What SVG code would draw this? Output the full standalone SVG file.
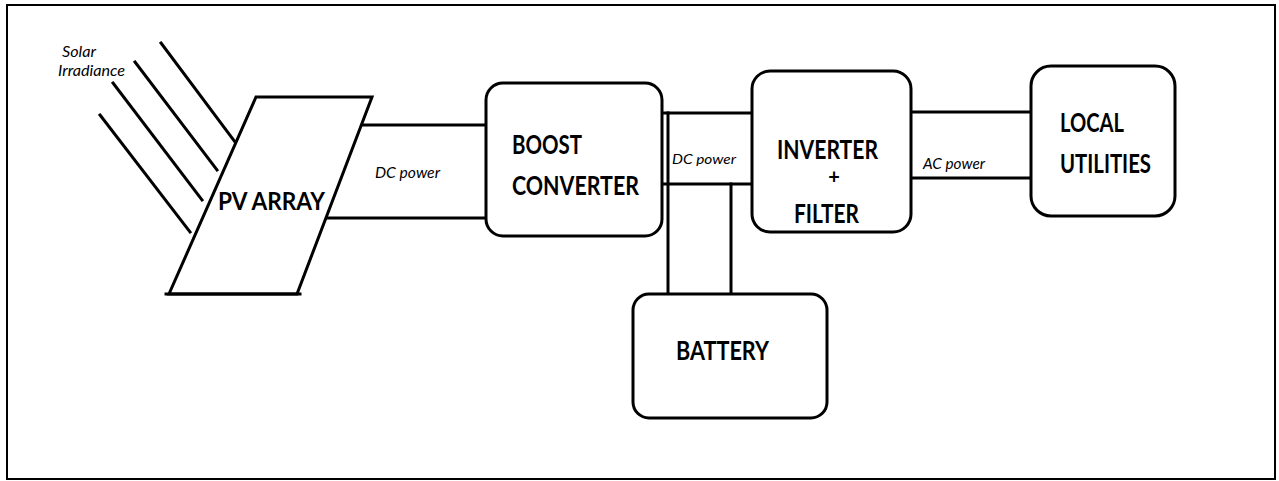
<svg xmlns="http://www.w3.org/2000/svg" width="1279" height="481" viewBox="0 0 1279 481">
<style>
.ln{stroke:#000;stroke-width:3;fill:none;stroke-linecap:square}
.box{stroke:#000;stroke-width:3;fill:#fff}
.lbl{font-family:Lato,"Open Sans","Liberation Sans",sans-serif;font-weight:bold;fill:#000}
.it{font-family:Lato,"Open Sans","Liberation Sans",sans-serif;font-style:italic;fill:#000}
</style>
<rect x="0" y="0" width="1279" height="481" fill="#fff"/>
<rect x="7" y="5" width="1268" height="474" fill="none" stroke="#000" stroke-width="2"/>
<g id="connectors">
<line class="ln" x1="362" y1="125" x2="486" y2="125"/>
<line class="ln" x1="327" y1="218" x2="486" y2="218"/>
<line class="ln" x1="662" y1="113" x2="757" y2="113"/>
<line class="ln" x1="660" y1="184" x2="753" y2="184"/>
<line class="ln" x1="668" y1="113" x2="668" y2="294"/>
<line class="ln" x1="731" y1="184" x2="731" y2="294"/>
<line class="ln" x1="911" y1="112" x2="1031" y2="112"/>
<line class="ln" x1="911" y1="178" x2="1031" y2="178"/>
<text class="it" x="375" y="178" font-size="16" textLength="65" lengthAdjust="spacingAndGlyphs">DC power</text>
<text class="it" x="672" y="164" font-size="14" textLength="64" lengthAdjust="spacingAndGlyphs">DC power</text>
<text class="it" x="923" y="169" font-size="15" textLength="62" lengthAdjust="spacingAndGlyphs">AC power</text>
</g>
<g id="solar-irradiance">
<line class="ln" x1="161" y1="43" x2="235" y2="142"/>
<line class="ln" x1="135" y1="62" x2="217" y2="170"/>
<line class="ln" x1="113" y1="83" x2="202" y2="200"/>
<line class="ln" x1="100" y1="115" x2="190" y2="232"/>
<text class="it" x="62" y="57" font-size="16" textLength="34" lengthAdjust="spacingAndGlyphs">Solar</text>
<text class="it" x="58" y="76" font-size="16" textLength="67" lengthAdjust="spacingAndGlyphs">Irradiance</text>
</g>
<g id="pv-array">
<polygon points="256,97 372,97 297,294 169,294" fill="#fff" stroke="#000" stroke-width="3"/>
<line class="ln" x1="166" y1="294" x2="300" y2="294"/>
<text class="lbl" x="218" y="210" font-size="25" textLength="107" lengthAdjust="spacingAndGlyphs">PV ARRAY</text>
</g>
<g id="boost-converter">
<rect class="box" x="486" y="83" width="176" height="153" rx="17"/>
<text class="lbl" x="512" y="154" font-size="26" textLength="70" lengthAdjust="spacingAndGlyphs">BOOST</text>
<text class="lbl" x="512" y="195" font-size="26" textLength="127" lengthAdjust="spacingAndGlyphs">CONVERTER</text>
</g>
<g id="inverter-filter">
<rect class="box" x="752" y="71" width="159" height="161" rx="18"/>
<text class="lbl" x="777" y="159" font-size="26" textLength="101" lengthAdjust="spacingAndGlyphs">INVERTER</text>
<text class="lbl" x="834" y="184" font-size="20" text-anchor="middle">+</text>
<text class="lbl" x="794" y="223" font-size="26" textLength="65" lengthAdjust="spacingAndGlyphs">FILTER</text>
</g>
<g id="local-utilities">
<rect class="box" x="1031" y="66" width="144" height="150" rx="20"/>
<text class="lbl" x="1060" y="132" font-size="26" textLength="64" lengthAdjust="spacingAndGlyphs">LOCAL</text>
<text class="lbl" x="1060" y="173" font-size="26" textLength="91" lengthAdjust="spacingAndGlyphs">UTILITIES</text>
</g>
<g id="battery">
<rect class="box" x="633" y="294" width="194" height="124" rx="16"/>
<text class="lbl" x="676" y="360" font-size="27" textLength="93" lengthAdjust="spacingAndGlyphs">BATTERY</text>
</g>
</svg>
